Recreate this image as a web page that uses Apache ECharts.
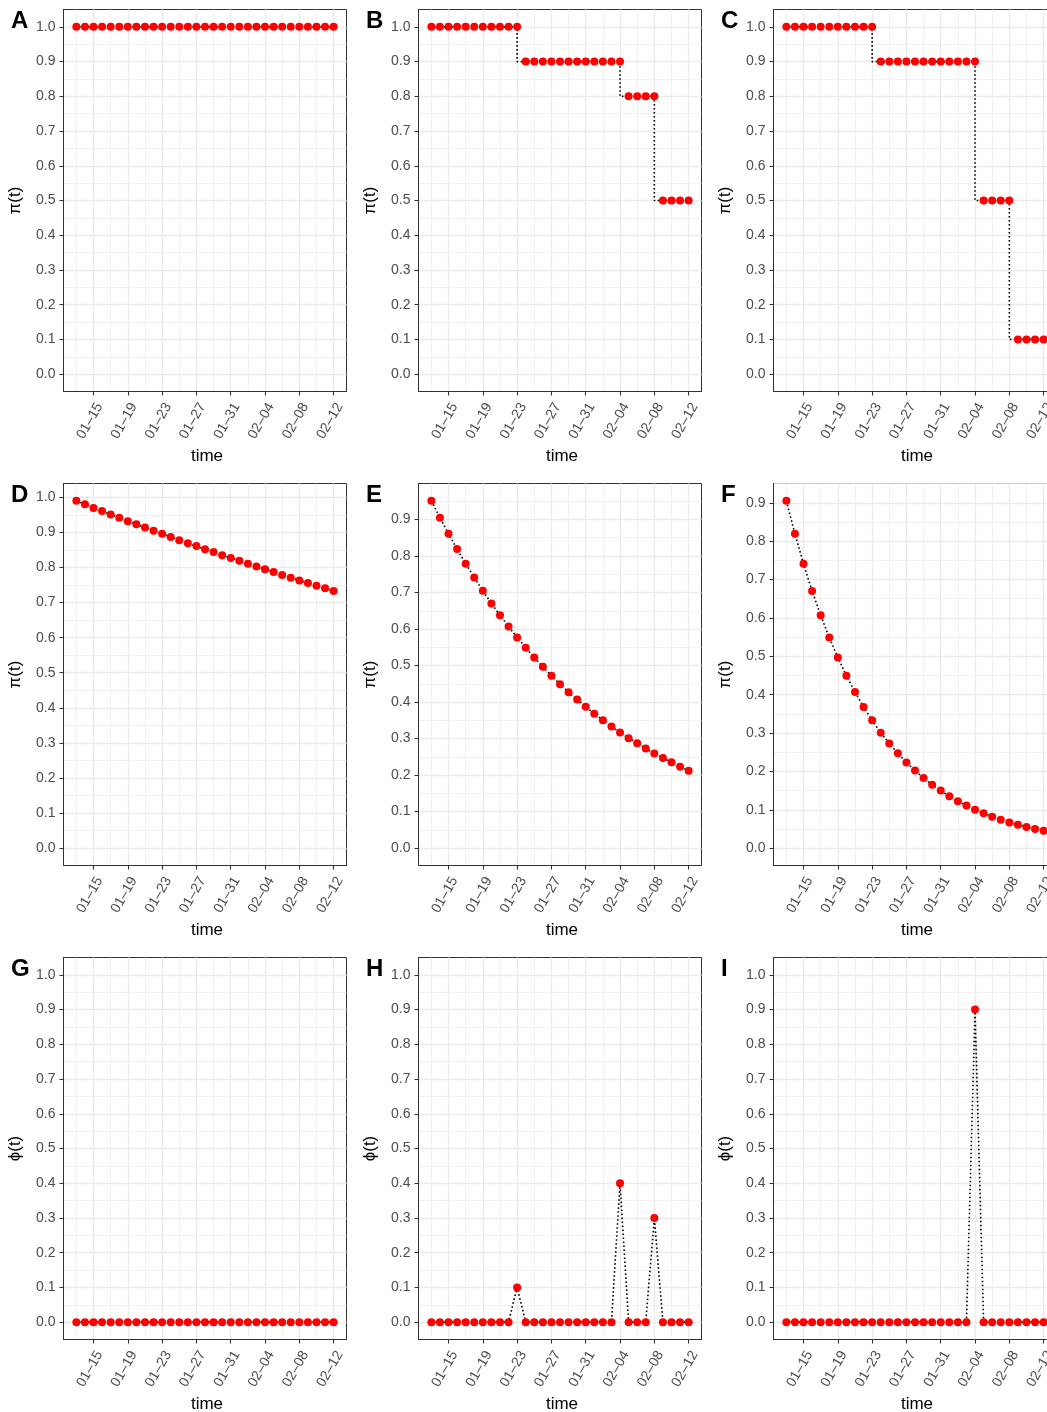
<!DOCTYPE html>
<html><head><meta charset="utf-8">
<script src="https://cdn.jsdelivr.net/npm/echarts@6/dist/echarts.min.js"></script>
<style>html,body{margin:0;padding:0;background:#fff}#c{width:1047px;height:1412px}</style>
</head><body><div id="c"></div>
<script>
// ---------- data ----------
const dates = ['01-13','01-14','01-15','01-16','01-17','01-18','01-19','01-20','01-21','01-22',
  '01-23','01-24','01-25','01-26','01-27','01-28','01-29','01-30','01-31','02-01',
  '02-02','02-03','02-04','02-05','02-06','02-07','02-08','02-09','02-10','02-11','02-12'];
const xTickLabels = ['01-15','01-19','01-23','01-27','01-31','02-04','02-08','02-12'];
const xMinorBreaks = ['01-13','01-17','01-21','01-25','01-29','02-02','02-06','02-10'];
const yTicks = [0.0,0.1,0.2,0.3,0.4,0.5,0.6,0.7,0.8,0.9,1.0];
const yMinorBreaks = [0.05,0.15,0.25,0.35,0.45,0.55,0.65,0.75,0.85,0.95];
const panelLetters = ['A','B','C','D','E','F','G','H','I'];
const yTitles = ['π(t)','π(t)','π(t)','π(t)','π(t)','π(t)','ϕ(t)','ϕ(t)','ϕ(t)'];

const piA = [1,1,1,1,1,1,1,1,1,1,1,1,1,1,1,1,1,1,1,1,1,1,1,1,1,1,1,1,1,1,1];
const piB = [1,1,1,1,1,1,1,1,1,1,1,0.9,0.9,0.9,0.9,0.9,0.9,0.9,0.9,0.9,0.9,0.9,0.9,0.8,0.8,0.8,0.8,0.5,0.5,0.5,0.5];
const piC = [1,1,1,1,1,1,1,1,1,1,1,0.9,0.9,0.9,0.9,0.9,0.9,0.9,0.9,0.9,0.9,0.9,0.9,0.5,0.5,0.5,0.5,0.1,0.1,0.1,0.1];
const piD = [0.990,0.980,0.970,0.961,0.951,0.942,0.932,0.923,0.914,0.905,0.896,0.887,0.878,0.869,0.861,0.852,0.844,0.835,0.827,0.819,0.811,0.803,0.795,0.787,0.779,0.771,0.763,0.756,0.748,0.741,0.733];
const piE = [0.951,0.905,0.861,0.819,0.779,0.741,0.705,0.670,0.638,0.607,0.577,0.549,0.522,0.497,0.472,0.449,0.427,0.407,0.387,0.368,0.350,0.333,0.317,0.301,0.287,0.273,0.259,0.247,0.235,0.223,0.212];
const piF = [0.905,0.819,0.741,0.670,0.607,0.549,0.497,0.449,0.407,0.368,0.333,0.301,0.273,0.247,0.223,0.202,0.183,0.165,0.150,0.135,0.122,0.111,0.100,0.091,0.082,0.074,0.067,0.061,0.055,0.050,0.045];
const phiG = [0,0,0,0,0,0,0,0,0,0,0,0,0,0,0,0,0,0,0,0,0,0,0,0,0,0,0,0,0,0,0];
const phiH = [0,0,0,0,0,0,0,0,0,0,0.1,0,0,0,0,0,0,0,0,0,0,0,0.4,0,0,0,0.3,0,0,0,0];
const phiI = [0,0,0,0,0,0,0,0,0,0,0,0,0,0,0,0,0,0,0,0,0,0,0.9,0,0,0,0,0,0,0,0];

const panelSeries = [piA,piB,piC,piD,piE,piF,phiG,phiH,phiI];
const panelStep = [true,true,true,false,false,false,false,false,false];
const panelIncludeOne = [false,false,false,false,false,false,true,true,true];

// ---------- layout ----------
const colLeft = [63.5, 418.5, 773.5];
const rowTop = [9.5, 483.5, 957.5];
const pW = 283, pH = 382;
const FONT = '"Liberation Sans", Arial, Helvetica, sans-serif';

const grids = [], xAxes = [], yAxes = [], series = [], graphics = [];
const n = dates.length;
const xMin = 0 - 0.05*(n-1), xMax = (n-1) + 0.05*(n-1);
const xMajorIdx = xTickLabels.map(d => dates.indexOf(d));
const xMinorIdx = xMinorBreaks.map(d => dates.indexOf(d));

panelSeries.forEach((vals, i) => {
  const r = Math.floor(i/3), c = i%3;
  const left = colLeft[c], top = rowTop[r];
  let lo = Math.min(0, ...vals), hi = Math.max(...vals);
  if (panelIncludeOne[i]) hi = Math.max(hi, 1);
  const span = hi - lo;
  const yMin = lo - 0.05*span, yMax = hi + 0.05*span;
  const yMaj = yTicks.filter(v => v >= yMin - 1e-9 && v <= yMax + 1e-9);
  const yMinr = yMinorBreaks.filter(v => v > yMin && v < yMax);

  grids.push({left: left, top: top, width: pW, height: pH, show: true,
    borderColor: '#333333', borderWidth: 1, backgroundColor: 'transparent',
    containLabel: false, outerBoundsMode: 'none'});

  xAxes.push({gridIndex: i, type: 'value', min: xMin, max: xMax, position: 'bottom',
    axisLine: {show: true, onZero: false, lineStyle: {color: '#333333', width: 1}}, splitLine: {show: false},
    axisTick: {show: true, inside: false, customValues: xMajorIdx, length: 4, lineStyle: {color: '#333333', width: 1.1}},
    axisLabel: {customValues: xMajorIdx, rotate: 60, margin: 9, verticalAlign: 'top',
      fontSize: 14, color: '#4D4D4D', fontFamily: FONT,
      formatter: v => dates[Math.round(v)].replace('-', '–')},
    name: 'time', nameLocation: 'middle', nameGap: 56,
    nameTextStyle: {fontSize: 17, color: '#000', fontFamily: FONT, padding: [0, 0, 0, 4]}});

  yAxes.push({gridIndex: i, type: 'value', min: yMin, max: yMax, position: 'left',
    axisLine: {show: true, onZero: false, lineStyle: {color: '#333333', width: 1}}, splitLine: {show: false},
    axisTick: {show: true, inside: false, customValues: yMaj, length: 4, lineStyle: {color: '#333333', width: 1.1}},
    axisLabel: {customValues: yMaj, margin: 8, fontSize: 14, color: '#4D4D4D', fontFamily: FONT,
      formatter: v => v.toFixed(1)},
    name: yTitles[i], nameLocation: 'middle', nameGap: 40,
    nameTextStyle: {fontSize: 17, color: '#000', fontFamily: FONT}});

  const gl = [];
  yMinr.forEach(v => gl.push({yAxis: v, lineStyle: {color: '#EDEDED', width: 0.8}}));
  xMinorIdx.forEach(v => gl.push({xAxis: v, lineStyle: {color: '#EDEDED', width: 0.8}}));
  yMaj.forEach(v => gl.push({yAxis: v, lineStyle: {color: '#EBEBEB', width: 1.4}}));
  xMajorIdx.forEach(v => gl.push({xAxis: v, lineStyle: {color: '#EBEBEB', width: 1.4}}));

  series.push({type: 'line', xAxisIndex: i, yAxisIndex: i, data: [], z: 0, zlevel: 0,
    markLine: {silent: true, z: 0, symbol: ['none','none'], animation: false, label: {show: false},
      lineStyle: {type: 'solid'}, emphasis: {disabled: true}, data: gl}});

  const pts = vals.map((v, k) => [k, v]);
  series.push({type: 'line', xAxisIndex: i, yAxisIndex: i, data: pts, z: 2,
    step: panelStep[i] ? 'start' : false, symbol: 'none', silent: true,
    lineStyle: {color: '#000', width: 1.6, type: [1.6, 2.4], cap: 'butt'}});
  series.push({type: 'scatter', xAxisIndex: i, yAxisIndex: i, data: pts, z: 3,
    symbolSize: 8, itemStyle: {color: '#FF0000', opacity: 1, borderWidth: 0}, silent: true});

  graphics.push({type: 'text', x: left - 52.5, y: top + 11.5, z: 10,
    style: {text: panelLetters[i], font: 'bold 24px ' + FONT, fill: '#000', verticalAlign: 'middle', align: 'left'}});
});

const chart = echarts.init(document.getElementById('c'), null, {renderer: 'canvas'});
chart.setOption({
  animation: false,
  backgroundColor: '#ffffff',
  grid: grids, xAxis: xAxes, yAxis: yAxes, series: series, graphic: graphics
});
</script></body></html>
